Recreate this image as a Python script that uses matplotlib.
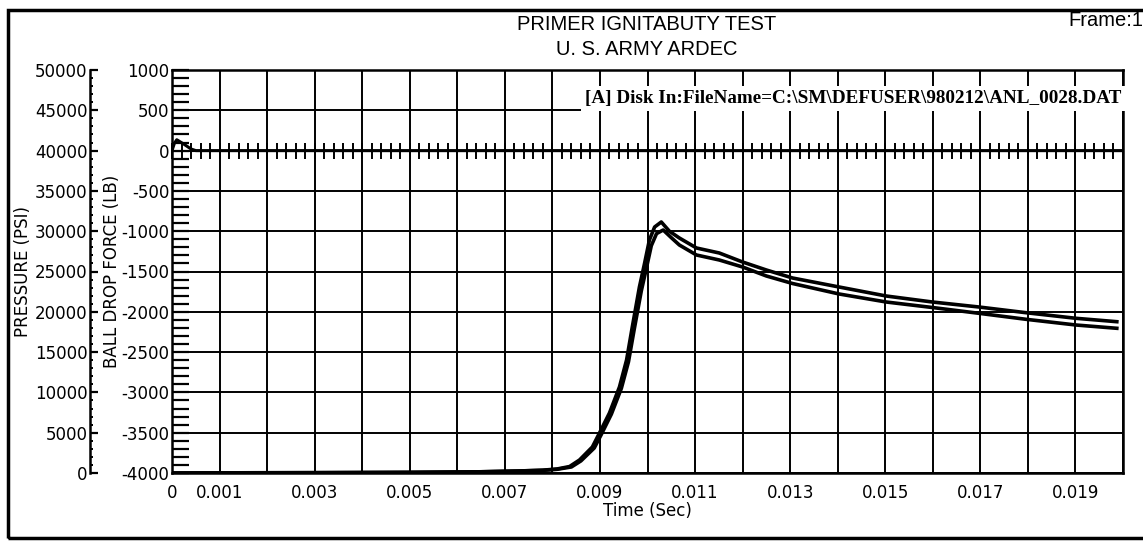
import matplotlib
matplotlib.use('Agg')
import matplotlib.pyplot as plt
from matplotlib.patches import Rectangle
import numpy as np

# pressure traces (two shots), time in seconds, pressure in psi
t_a = [0, 0.001, 0.003, 0.005, 0.0065, 0.0073, 0.0078, 0.0081, 0.00836, 0.00857, 0.00884, 0.00899,
       0.0092, 0.00941, 0.00956, 0.00968, 0.00983, 0.00994, 0.01004, 0.01015, 0.01029, 0.01046,
       0.01067, 0.01103, 0.01151, 0.0120, 0.0125, 0.01305, 0.01403, 0.01502, 0.01599, 0.01697,
       0.01796, 0.01901, 0.01987]
p_a = [0, 20, 40, 80, 150, 250, 350, 500, 800, 1613, 3226, 4963,
       7444, 10670, 14020, 18114, 23077, 26055, 28908, 30521, 31142, 30000,
       29156, 27916, 27295, 26179, 25186, 24194, 23077, 21960, 21216, 20596,
       19888, 19194, 18772]

t_b = [0, 0.001, 0.003, 0.005, 0.0065, 0.0073, 0.0078, 0.0081, 0.0084, 0.0086, 0.00888, 0.00903,
       0.00924, 0.00945, 0.0096, 0.00972, 0.00987, 0.00998, 0.01008, 0.01019, 0.01033, 0.0105,
       0.01067, 0.01103, 0.01151, 0.0120, 0.0125, 0.01305, 0.01403, 0.01502, 0.01599, 0.01697,
       0.01796, 0.01901, 0.01987]
p_b = [0, 20, 40, 80, 150, 250, 330, 460, 750, 1500, 3100, 4800,
       7300, 10500, 13800, 17800, 22600, 25500, 28200, 29700, 30149, 29200,
       28288, 27047, 26427, 25558, 24442, 23511, 22209, 21216, 20534, 19814,
       19070, 18362, 17953]

# ball drop force trace (lb)
t_f = [0, 0.00005, 0.0001, 0.00025, 0.0004, 0.0005, 0.02]
f_f = [0, 90, 135, 80, 20, 0, 0]

x_ticks = [0, 0.001, 0.003, 0.005, 0.007, 0.009, 0.011, 0.013, 0.015, 0.017, 0.019]
x_labels = ['0', '0.001', '0.003', '0.005', '0.007', '0.009', '0.011', '0.013', '0.015', '0.017', '0.019']

plt.rcParams['font.family'] = ['DejaVu Sans']
plt.rcParams['axes.unicode_minus'] = False

fig = plt.figure(figsize=(11.43, 5.42), dpi=100)
ax = fig.add_axes([172/1143, 69/542, 951/1143, 403/542])

# outer frame
fig.patches.append(Rectangle((8/1143, 4/542), 1.2, 528/542, transform=fig.transFigure,
                             fill=False, edgecolor='black', linewidth=2.5))

# force axis (inner left)
ax.set_xlim(0, 0.02)
ax.set_ylim(-4000, 1000)
ax.set_yticks(np.arange(-4000, 1001, 500))
ax.set_yticks(np.arange(-4000, 1001, 100), minor=True)
ax.set_xticks(x_ticks)
ax.set_xticklabels(x_labels)
ax.set_xticks(np.arange(0, 0.0201, 0.001), minor=True)
ax.tick_params(axis='x', which='both', length=0, labelsize=12, pad=8)
ax.tick_params(axis='y', which='both', direction='in', length=12, width=1.6, labelsize=12, pad=2)
ax.grid(True, axis='x', which='both', color='black', linewidth=1.4)
ax.grid(True, axis='y', which='major', color='black', linewidth=1.4)
for s in ax.spines.values():
    s.set_linewidth(1.8)
ax.set_ylabel('BALL DROP FORCE (LB)', fontsize=12, labelpad=0)
ax.set_xlabel('Time (Sec)', fontsize=12, labelpad=0)

ax.plot(t_f, f_f, color='black', linewidth=2.2, zorder=5)

# zero line tick marks
sec = ax.secondary_xaxis(0.8)
sec.set_xticks(np.arange(0, 0.0201, 0.0002))
sec.set_xticklabels([])
sec.tick_params(direction='inout', length=11, width=1.4)
sec.spines['bottom'].set_linewidth(2)

# pressure axis (outer left)
ax2 = ax.twinx()
ax2.yaxis.set_ticks_position('left')
ax2.yaxis.set_label_position('left')
ax2.spines['left'].set_position(('outward', 59))
ax2.spines['left'].set_visible(True)
ax2.spines['right'].set_visible(False)
ax2.spines['top'].set_visible(False)
ax2.spines['bottom'].set_visible(False)
ax2.spines['left'].set_linewidth(1.8)
ax2.set_ylim(0, 50000)
ax2.set_yticks(np.arange(0, 50001, 5000))
ax2.set_yticks(np.arange(0, 50001, 1000), minor=True)
ax2.tick_params(axis='y', which='major', direction='in', length=6, width=1.6, labelsize=12, pad=2)
ax2.tick_params(axis='y', which='minor', direction='in', length=2.5, width=1.4)
ax2.set_ylabel('PRESSURE (PSI)', fontsize=12, labelpad=2)

ax2.plot(t_a, p_a, color='black', linewidth=2.6)
ax2.plot(t_b, p_b, color='black', linewidth=2.6)

ax2.text(0.9985, 0.929, '[A] Disk In:FileName=C:\\SM\\DEFUSER\\980212\\ANL_0028.DAT',
         transform=ax.transAxes, ha='right', va='center', fontsize=13.8, fontweight='bold',
         family='Liberation Serif', zorder=10,
         bbox=dict(facecolor='white', edgecolor='none', pad=3))

fig.text(647/1143, 1 - 30/542, 'PRIMER IGNITABUTY TEST', ha='center', va='baseline',
         fontsize=14.5, family='Liberation Sans')
fig.text(647/1143, 1 - 55/542, 'U. S. ARMY ARDEC', ha='center', va='baseline',
         fontsize=14.5, family='Liberation Sans')
fig.text(1068/1143, 1 - 26/542, 'Frame:1', ha='left', va='baseline',
         fontsize=14.5, family='Liberation Sans')

fig.savefig('out.png', dpi=100)
